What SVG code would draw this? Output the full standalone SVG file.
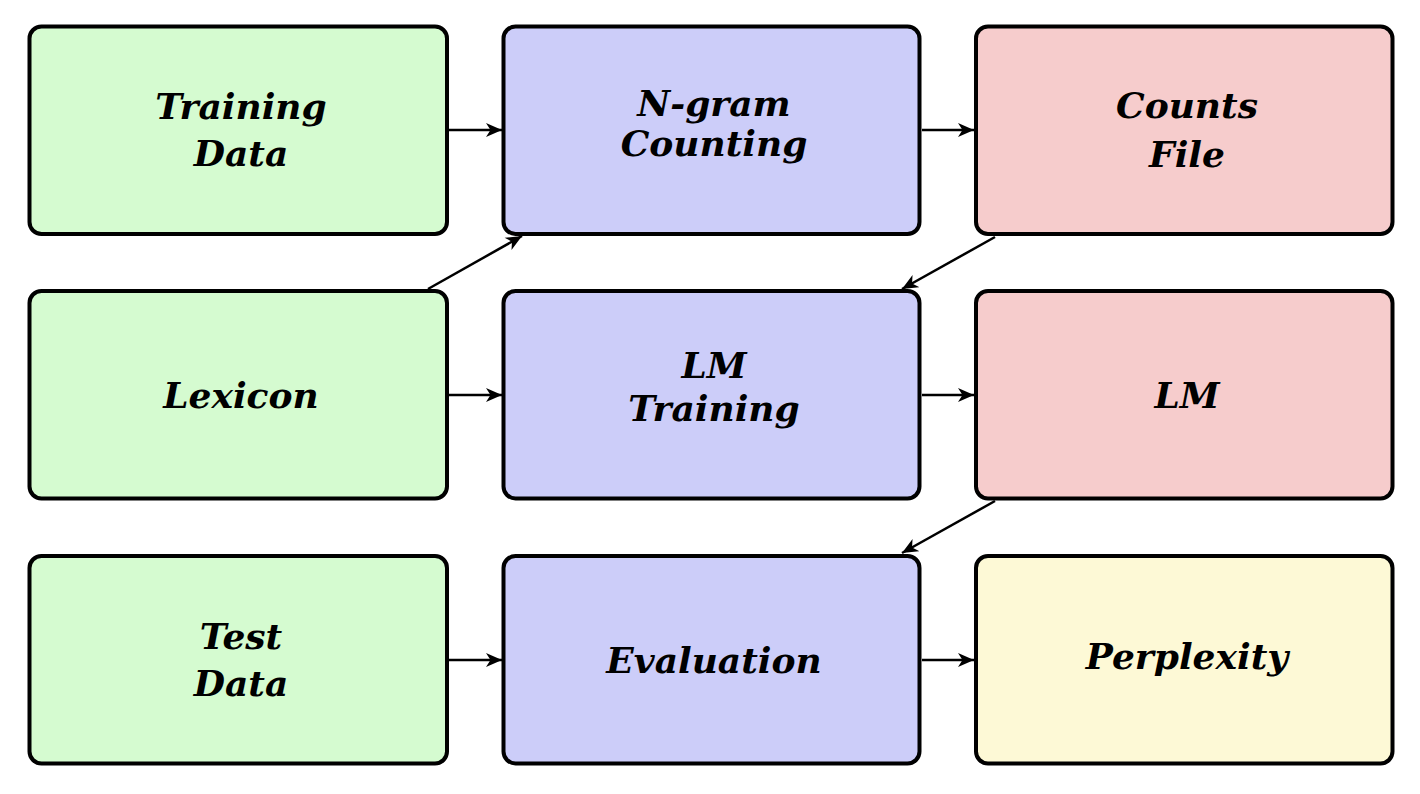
<svg xmlns="http://www.w3.org/2000/svg" width="1420" height="794" viewBox="0 0 1420 794">
<style>
.box{stroke:#000;stroke-width:4}
.g{fill:#d5fbd0}.b{fill:#cccdf9}.r{fill:#f6cccc}.y{fill:#fdf9d6}
text{font-family:"DejaVu Serif","Liberation Serif",serif;font-weight:bold;font-style:italic;font-size:36px;text-anchor:middle;fill:#000}
.c line{stroke:#000;stroke-width:2.5;marker-end:url(#ah)}
</style>
<defs>
<marker id="ah" markerUnits="userSpaceOnUse" markerWidth="18" markerHeight="16" refX="16" refY="7" orient="auto" viewBox="0 0 18 14">
<path d="M0,0 L16,7 L0,14 L4.5,7 Z" fill="#000"/>
</marker>
</defs>
<rect width="1420" height="794" fill="#fff"/>
<g id="training-data"><rect class="box g" x="29.5" y="26.5" width="417.5" height="207.5" rx="12"/><text x="241" y="119">Training</text><text x="241" y="166">Data</text></g>
<g id="ngram-counting"><rect class="box b" x="503.5" y="26.5" width="416" height="207.5" rx="12"/><text x="714" y="116">N-gram</text><text x="714" y="156">Counting</text></g>
<g id="counts-file"><rect class="box r" x="976" y="26.5" width="416.5" height="207.5" rx="12"/><text x="1187" y="118">Counts</text><text x="1187" y="167">File</text></g>
<g id="lexicon"><rect class="box g" x="29.5" y="291" width="417.5" height="207.5" rx="12"/><text x="241" y="408">Lexicon</text></g>
<g id="lm-training"><rect class="box b" x="503.5" y="291" width="416" height="207.5" rx="12"/><text x="714" y="378">LM</text><text x="714" y="421">Training</text></g>
<g id="lm"><rect class="box r" x="976" y="291" width="416.5" height="207.5" rx="12"/><text x="1187" y="408">LM</text></g>
<g id="test-data"><rect class="box g" x="29.5" y="556" width="417.5" height="207.5" rx="12"/><text x="241" y="649">Test</text><text x="241" y="696">Data</text></g>
<g id="evaluation"><rect class="box b" x="503.5" y="556" width="416" height="207.5" rx="12"/><text x="714" y="673">Evaluation</text></g>
<g id="perplexity"><rect class="box y" x="976" y="556" width="416.5" height="207.5" rx="12"/><text x="1187" y="669">Perplexity</text></g>
<g id="connectors" class="c">
<line x1="449" y1="130" x2="502" y2="130"/>
<line x1="922" y1="130" x2="974" y2="130"/>
<line x1="428" y1="289" x2="522" y2="236"/>
<line x1="995" y1="237" x2="902" y2="289"/>
<line x1="449" y1="395" x2="502" y2="395"/>
<line x1="922" y1="395" x2="974" y2="395"/>
<line x1="995" y1="501" x2="902" y2="553"/>
<line x1="449" y1="660" x2="502" y2="660"/>
<line x1="922" y1="660" x2="974" y2="660"/>
</g>
</svg>
